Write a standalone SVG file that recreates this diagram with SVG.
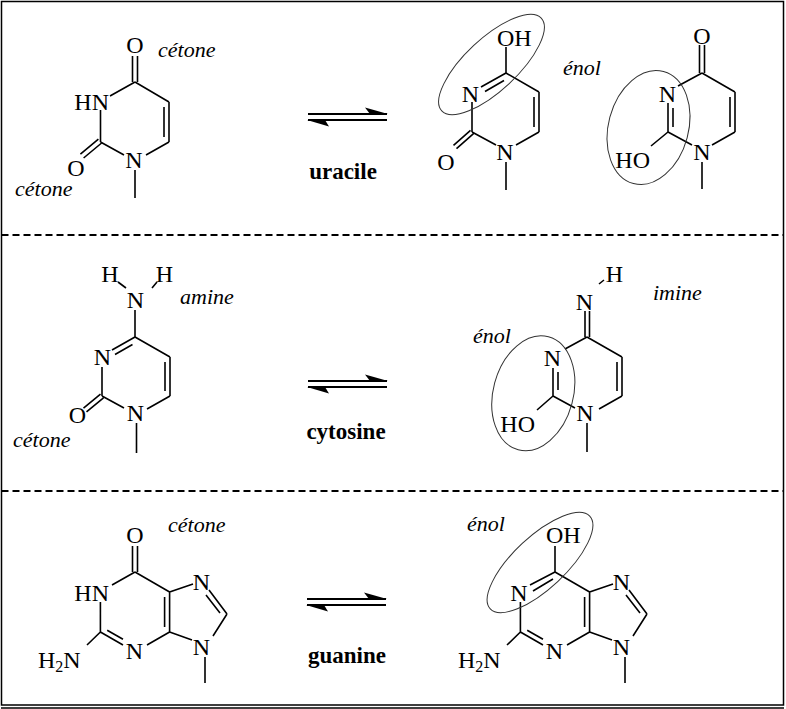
<svg xmlns="http://www.w3.org/2000/svg" xmlns:xlink="http://www.w3.org/1999/xlink" width="786" height="709" viewBox="0 0 786 709">
<style>
.bd{stroke:#000;stroke-width:1.6;fill:none}
.at{font-family:"Liberation Serif","Times New Roman",serif;font-size:24px;text-anchor:middle;fill:#000}
.it{font-family:"Liberation Serif","Times New Roman",serif;font-size:22px;font-style:italic;fill:#000}
.nm{font-family:"Liberation Serif","Times New Roman",serif;font-size:23px;font-weight:bold;text-anchor:middle;fill:#000}
.el{stroke:#333;stroke-width:1;fill:none}
.sep{stroke:#000;stroke-width:2;stroke-dasharray:7 4;fill:none}
</style>
<defs>
<g id="eq">
<path d="M0 0H79M0 6H79" stroke="#000" stroke-width="2" fill="none"/>
<path d="M80 0L57-6.5L62 0Z" fill="#000"/>
<path d="M-1 6L21 12.5L17 6Z" fill="#000"/>
</g>
</defs>
<rect width="786" height="709" fill="#fff"/>
<g id="frame">
<rect x="1.5" y="1.5" width="782" height="703.5" fill="none" stroke="#000" stroke-width="1.5"/>
<path d="M1 708H784" stroke="#000" stroke-width="1.5"/>
<path class="sep" d="M1.5 235H783.5M1.5 491H783.5"/>
</g>
<g id="connectors">
<use xlink:href="#eq" transform="translate(308,114)"/>
<use xlink:href="#eq" transform="translate(308,381)"/>
<use xlink:href="#eq" transform="translate(307,599)"/>
<text class="nm" x="343" y="179">uracile</text>
<text class="nm" x="346" y="439">cytosine</text>
<text class="nm" x="347" y="663">guanine</text>
</g>
<g id="uracile-cetone">
<path class="bd" d="M132.5 56V82M137.5 56V82M135 82L110 96M135 82L169 102M169 102V142M164 107V137M169 142L146 155M124 155L100.5 142M135 170V198M100.5 142V110M101.6 143L83.6 158M98.4 139.2L80.4 154.2"/>
<text class="at" x="135" y="53">O</text>
<text class="at" x="109" y="110" style="text-anchor:end">HN</text>
<text class="at" x="134" y="168">N</text>
<text class="at" x="76" y="176">O</text>
<text class="it" x="158" y="57">cétone</text>
<text class="it" x="15" y="196">cétone</text>
</g>
<g id="uracile-enol-4">
<path class="bd" d="M506 47V73M506 73L539 92M539 92V132M534 97V127M539 132L516 145M496 145L472 132M506 162V190M472 132V102M481 87L506 73M485 91.5L504 80.5M473.5 133.7L456.5 148.7M470.5 130.3L453.5 145.3"/>
<text class="at" x="497" y="46" style="text-anchor:start">OH</text>
<text class="at" x="470.5" y="101.5">N</text>
<text class="at" x="505" y="160">N</text>
<text class="at" x="446" y="170">O</text>
<ellipse class="el" cx="491.5" cy="64.5" rx="68" ry="26" transform="rotate(-43 491.5 64.5)"/>
<text class="it" x="563" y="75">énol</text>
</g>
<g id="uracile-enol-2">
<path class="bd" d="M699.5 45V73M704.5 45V73M702 73L735 92M735 92V132M730 97V127M735 132L712 145M702 162V189M692 145L668 132M668 132L651 146M668 132V103M673 108V127M678 86L702 73"/>
<text class="at" x="702" y="43.5">O</text>
<text class="at" x="702" y="160">N</text>
<text class="at" x="650" y="168" style="text-anchor:end">HO</text>
<text class="at" x="667.5" y="102">N</text>
<ellipse class="el" cx="648.5" cy="127.5" rx="40" ry="58" transform="rotate(15 648.5 127.5)"/>
</g>
<g id="cytosine-amine">
<path class="bd" d="M118 282L126 288M152 288L157 282M135 310V337M135 337L170 357M170 357V396M165 362V391M170 396L147 409M136.5 423V453M124 408L102 396M103.5 397.8L86.5 411.8M100.5 394.2L83.5 408.2M102 396V367M112 350L135 337M115 354.5L132.5 344.5"/>
<text class="at" x="110" y="282">H</text>
<text class="at" x="164.5" y="282">H</text>
<text class="at" x="135.5" y="308">N</text>
<text class="at" x="135.5" y="421">N</text>
<text class="at" x="77.5" y="423">O</text>
<text class="at" x="102.5" y="365">N</text>
<text class="it" x="180" y="304">amine</text>
<text class="it" x="13" y="447">cétone</text>
</g>
<g id="cytosine-imine">
<path class="bd" d="M599 284L604 280M585 311V337M589.5 311V337M587 337L622 357M622 357V396M617 362V391M622 396L599 409M587 423V452M575 408L553 396M553 396L537 410M553 396V368M558 372V390M565 349L587 337"/>
<text class="at" x="614.5" y="282">H</text>
<text class="at" x="584.5" y="310">N</text>
<text class="at" x="585" y="421">N</text>
<text class="at" x="535" y="432" style="text-anchor:end">HO</text>
<text class="at" x="552.5" y="366">N</text>
<text class="it" x="653" y="300">imine</text>
<text class="it" x="473" y="343">énol</text>
<ellipse class="el" cx="533.3" cy="393.3" rx="40" ry="58.5" transform="rotate(15 533.3 393.3)"/>
</g>
<g id="guanine-cetone">
<path class="bd" d="M132.5 546V572M137.5 546V572M112 585L135 572M135 572L169.6 592M169.6 592V632M164.6 597V627M169.6 632L147 645M123 645L100.4 632M107.2 630.2L123 639.3M100.4 632V602M100.4 632L87 645M169.6 592L193 584M209 590L227 614M206 595L220 613M227 614L213 636M192 640L169.6 632M205 657V683"/>
<text class="at" x="135" y="543">O</text>
<text class="at" x="109" y="600.5" style="text-anchor:end">HN</text>
<text class="at" x="134.5" y="658.5">N</text>
<text class="at" x="201.5" y="590">N</text>
<text class="at" x="201.5" y="655">N</text>
<text class="at" x="38" y="668" style="text-anchor:start">H<tspan font-size="16" dy="4">2</tspan><tspan dy="-4">N</tspan></text>
<text class="it" x="168" y="532">cétone</text>
</g>
<g id="guanine-enol">
<path class="bd" d="M555 546V572M530 585L555 572M533 591L553 579M555 572L589.6 592M589.6 592V632M584.6 597V627M589.6 632L567 645M543 645L520.4 632M527.2 630.2L543 639.3M520.4 632V602M520.4 632L507 645M589.6 592L613 584M629 590L647 614M626 595L640 613M647 614L633 636M612 640L589.6 632M625 657V683"/>
<text class="at" x="546" y="543" style="text-anchor:start">OH</text>
<text class="at" x="519" y="600.5">N</text>
<text class="at" x="554.5" y="658.5">N</text>
<text class="at" x="621.5" y="590">N</text>
<text class="at" x="621.5" y="655">N</text>
<text class="at" x="458" y="668" style="text-anchor:start">H<tspan font-size="16" dy="4">2</tspan><tspan dy="-4">N</tspan></text>
<text class="it" x="467" y="531">énol</text>
<ellipse class="el" cx="540" cy="562.5" rx="68" ry="26" transform="rotate(-43 540 562.5)"/>
</g>
</svg>
